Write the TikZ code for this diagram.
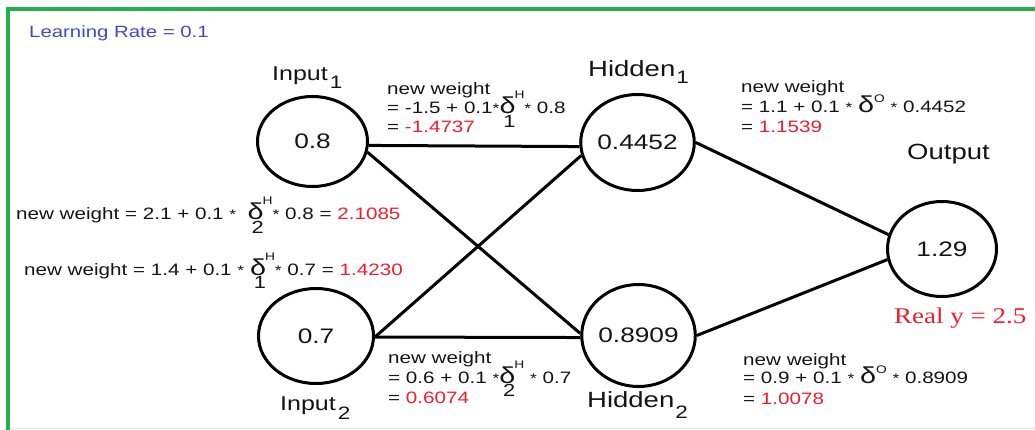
\documentclass[tikz,border=0pt]{standalone}
\usepackage{fontspec}
\setmainfont{Liberation Sans}[FakeStretch=1.25]
\newfontfamily\serifwide{Liberation Serif}[FakeStretch=1.2]
\usetikzlibrary{shapes.geometric}

\definecolor{wred}{RGB}{240,30,45}
\definecolor{lrblue}{RGB}{63,72,204}
\definecolor{framegreen}{RGB}{34,177,76}
\definecolor{ink}{RGB}{20,20,20}

% font size helper
\newcommand\fs[1]{\fontsize{#1}{#1}\selectfont}
% small multiplication star
\newcommand\mul{{\fs{14}*}}
% delta with a superscript and a large subscript stacked below it
\newcommand\dHs[2]{{\fs{23}δ}\llap{\raisebox{-13.5pt}{\fs{17.5}#2}}\kern-1pt\raisebox{15pt}{\fs{11}#1}}
% delta of the output layer
\newcommand\dOs{{\fs{23}δ}\raisebox{10pt}{\fs{11}O}}

\tikzset{
  neuron/.style={ellipse, draw=black, line width=3pt, inner sep=0pt,
                 font=\fs{21}, text=ink},
  link/.style={line width=3pt, black},
  wtext/.style={anchor=base west, inner sep=0pt, font=\fs{16.5}, text=ink},
  layerlabel/.style={anchor=base west, inner sep=0pt, font=\fs{22}, text=ink},
}

\begin{document}
\begin{tikzpicture}[x=1pt,y=-1pt]
\useasboundingbox (0,0) rectangle (1035,430);

% frame
\draw[framegreen, line width=3.5pt] (8,432) -- (8,9) -- (1037,9);
\draw[black!12, line width=1pt] (10,428.5) -- (1035,428.5);

\node[anchor=base west, inner sep=0pt, font=\fs{16.3}, text=lrblue] (lr) at (29,38) {Learning Rate = 0.1};

% neurons
\node[neuron, minimum width=110pt, minimum height=90pt] (in1) at (312.5,141.5) {0.8};
\node[neuron, minimum width=115pt, minimum height=95pt] (in2) at (316,336) {0.7};
\node[neuron, minimum width=108pt, minimum height=96pt] (h1) at (637.5,142.5) {0.4452};
\node[neuron, minimum width=110pt, minimum height=102pt] (h2) at (638.5,335.5) {0.8909};
\node[neuron, minimum width=109pt, minimum height=95pt] (out) at (942,249) {1.29};

% connections
\draw[link] (in1.-4) -- (h1.184);
\draw[link] (in1.-11) -- (h2.178);
\draw[link] (in2.-1) -- (h1.193);
\draw[link] (in2.-1) -- (h2.182);
\draw[link] (h1.east) -- (out.165);
\draw[link] (h2.east) -- (out.191);

% layer labels
\node[layerlabel, font=\fs{20}] (lin1) at (272,81) {Input\hspace{2pt}\raisebox{-8pt}{\fs{18}1}};
\node[layerlabel, font=\fs{20}] (lin2) at (280,410) {Input\hspace{2pt}\raisebox{-9pt}{\fs{18}2}};
\node[layerlabel] (lh1) at (588,77) {Hidden\hspace{1pt}\raisebox{-7pt}{\fs{18}1}};
\node[layerlabel] (lh2) at (587,407) {Hidden\hspace{1pt}\raisebox{-11pt}{\fs{18}2}};
\node[layerlabel] (lout) at (907,160) {Output};
\node[anchor=base west, inner sep=0pt, font=\serifwide\fs{22.5}, text=wred] (realy) at (894,323) {Real y = 2.5};

% weight updates, input 1 -> hidden 1
\node[wtext] (a1) at (387,95) {new weight};
\node[wtext] (a2) at (387,114) {= -1.5 + 0.1\mul\dHs{H}{1}\mul\ 0.8};
\node[wtext] (a3) at (387,133) {= \textcolor{wred}{-1.4737}};

% input 1 -> hidden 2 and input 2 -> hidden 1
\node[wtext] (b1) at (16,220) {new weight = 2.1 + 0.1 \mul\ \ \dHs{H}{2}\mul\ 0.8 = \textcolor{wred}{2.1085}};
\node[wtext] (c1) at (24,275) {new weight = 1.4 + 0.1 \mul\ \dHs{H}{1}\mul\ 0.7 = \textcolor{wred}{1.4230}};

% input 2 -> hidden 2
\node[wtext] (d1) at (388,363) {new weight};
\node[wtext] (d2) at (388,383) {= 0.6 + 0.1 \mul\dHs{H}{2} \mul\ 0.7};
\node[wtext] (d3) at (388,403) {= \textcolor{wred}{0.6074}};

% hidden 1 -> output
\node[wtext] (e1) at (741,93) {new weight};
\node[wtext] (e2) at (741,113) {= 1.1 + 0.1 \mul\ \dOs\ \mul\ 0.4452};
\node[wtext] (e3) at (741,133) {= \textcolor{wred}{1.1539}};

% hidden 2 -> output
\node[wtext] (f1) at (743,365) {new weight};
\node[wtext] (f2) at (743,383) {= 0.9 + 0.1 \mul\ \dOs\ \mul\ 0.8909};
\node[wtext] (f3) at (743,404) {= \textcolor{wred}{1.0078}};
\end{tikzpicture}
\end{document}
